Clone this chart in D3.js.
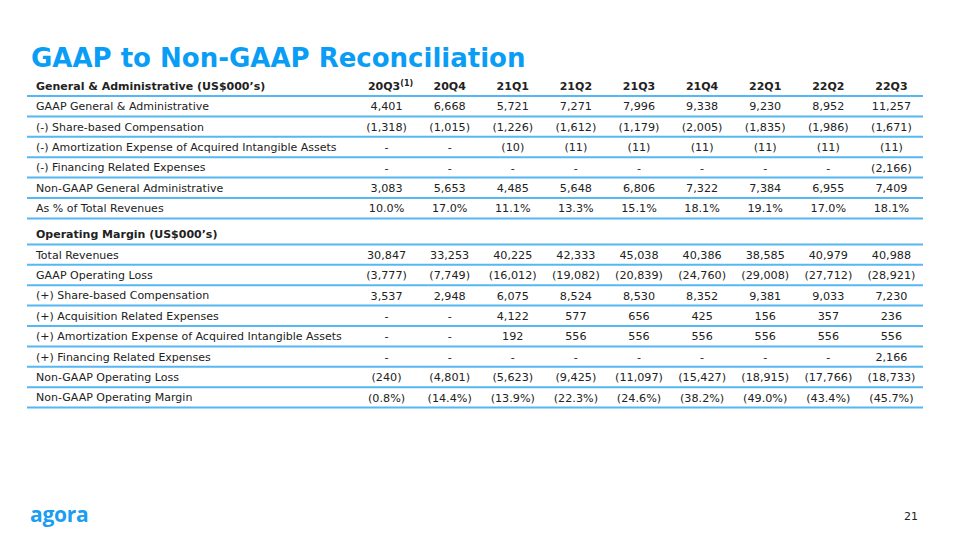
<!DOCTYPE html>
<html>
<head>
<meta charset="utf-8">
<script src="https://cdn.jsdelivr.net/npm/d3@7"></script>
<style>
  html, body { margin: 0; padding: 0; background: #fff; }
  svg { display: block; }
</style>
</head>
<body>
<svg id="chart" width="960" height="540"></svg>
<script>
// ---- Data ----
const quarters = ["20Q3", "20Q4", "21Q1", "21Q2", "21Q3", "21Q4", "22Q1", "22Q2", "22Q3"];

const gaTitle = "General & Administrative (US$000\u2019s)";
const gaLabels = [
  "GAAP General & Administrative",
  "(-) Share-based Compensation",
  "(-) Amortization Expense of Acquired Intangible Assets",
  "(-) Financing Related Expenses",
  "Non-GAAP General Administrative",
  "As % of Total Revenues"
];
const gaGaap      = [4401, 6668, 5721, 7271, 7996, 9338, 9230, 8952, 11257];
const gaSbc       = [-1318, -1015, -1226, -1612, -1179, -2005, -1835, -1986, -1671];
const gaAmort     = [null, null, -10, -11, -11, -11, -11, -11, -11];
const gaFinancing = [null, null, null, null, null, null, null, null, -2166];
const gaNonGaap   = [3083, 5653, 4485, 5648, 6806, 7322, 7384, 6955, 7409];
const gaPct       = [10.0, 17.0, 11.1, 13.3, 15.1, 18.1, 19.1, 17.0, 18.1];

const opTitle = "Operating Margin (US$000\u2019s)";
const opLabels = [
  "Total Revenues",
  "GAAP Operating Loss",
  "(+) Share-based Compensation",
  "(+) Acquisition Related Expenses",
  "(+) Amortization Expense of Acquired Intangible Assets",
  "(+) Financing Related Expenses",
  "Non-GAAP Operating Loss",
  "Non-GAAP Operating Margin"
];
const opRevenue   = [30847, 33253, 40225, 42333, 45038, 40386, 38585, 40979, 40988];
const opGaapLoss  = [-3777, -7749, -16012, -19082, -20839, -24760, -29008, -27712, -28921];
const opSbc       = [3537, 2948, 6075, 8524, 8530, 8352, 9381, 9033, 7230];
const opAcq       = [null, null, 4122, 577, 656, 425, 156, 357, 236];
const opAmort     = [null, null, 192, 556, 556, 556, 556, 556, 556];
const opFinancing = [null, null, null, null, null, null, null, null, 2166];
const opNonGaap   = [-240, -4801, -5623, -9425, -11097, -15427, -18915, -17766, -18733];
const opMargin    = [-0.8, -14.4, -13.9, -22.3, -24.6, -38.2, -49.0, -43.4, -45.7];

// ---- Build table ----
const fmtInt = d3.format(",");
const fmtPct = d3.format(".1f");
function fmt(v, pct) {
  if (v === null) return "-";
  const s = pct ? fmtPct(Math.abs(v)) + "%" : fmtInt(Math.abs(v));
  return v < 0 ? "(" + s + ")" : s;
}

const rows = [];
rows.push({ type: "head", label: gaTitle });
[gaGaap, gaSbc, gaAmort, gaFinancing, gaNonGaap, gaPct].forEach((vals, i) =>
  rows.push({ type: "data", label: gaLabels[i], values: vals, pct: i === 5 }));
rows.push({ type: "head", label: opTitle, gap: 26 });
[opRevenue, opGaapLoss, opSbc, opAcq, opAmort, opFinancing, opNonGaap, opMargin].forEach((vals, i) =>
  rows.push({ type: "data", label: opLabels[i], values: vals, pct: i === 7 }));

let yLine = 96;
rows.forEach((r, i) => {
  if (i > 0) yLine += (r.gap || 20.4);
  r.line = yLine;
  r.text = yLine - 10;
});

const svg = d3.select("#chart");
const font = "'DejaVu Sans', Verdana, sans-serif";
const left = 27, right = 923, labelX = 36;
const textColor = "#222";

const x = d3.scaleBand().domain(quarters).range([355, right]);

// Title
svg.append("text")
  .attr("x", 31).attr("y", 67)
  .attr("font-family", font).attr("font-weight", "bold")
  .attr("font-size", 26)
  .attr("fill", "#0a9df5")
  .text("GAAP to Non-GAAP Reconciliation");

const g = svg.append("g");

g.selectAll("line.rule").data(rows).join("line")
  .attr("class", "rule")
  .attr("x1", left).attr("x2", right)
  .attr("y1", d => d.line).attr("y2", d => d.line)
  .attr("stroke", "#55b7f3").attr("stroke-width", 2);

g.selectAll("text.label").data(rows).join("text")
  .attr("class", "label")
  .attr("x", labelX).attr("y", d => d.text)
  .attr("dy", "0.35em")
  .attr("font-family", font)
  .attr("font-size", 11)
  .attr("font-weight", d => d.type === "head" ? "bold" : "normal")
  .attr("fill", textColor)
  .text(d => d.label);

const head = rows[0];
const ht = g.selectAll("text.colhead").data(quarters).join("text")
  .attr("class", "colhead")
  .attr("x", d => x(d) + x.bandwidth() / 2 + (d === "20Q3" ? 4 : 0))
  .attr("y", head.text).attr("dy", "0.35em")
  .attr("text-anchor", "middle")
  .attr("font-family", font).attr("font-size", 11).attr("font-weight", "bold")
  .attr("fill", textColor)
  .text(d => d);
ht.filter(d => d === "20Q3").append("tspan")
  .attr("font-size", 8).attr("dy", "-0.45em").attr("font-weight", "bold")
  .text("(1)");

rows.filter(r => r.type === "data").forEach(r => {
  g.append("g").selectAll("text").data(r.values).join("text")
    .attr("x", (d, i) => x(quarters[i]) + x.bandwidth() / 2)
    .attr("y", r.text).attr("dy", "0.35em")
    .attr("text-anchor", "middle")
    .attr("font-family", font).attr("font-size", 11.2)
    .attr("fill", textColor)
    .text(d => fmt(d, r.pct));
});

// logo
svg.append("text")
  .attr("x", 30).attr("y", 522)
  .attr("font-family", "'Open Sans', Lato, sans-serif").attr("font-weight", "bold")
  .attr("font-size", 21)
  .attr("fill", "#1a9df2")
  .attr("letter-spacing", -0.3)
  .text("agora");

// page number
svg.append("text")
  .attr("x", 918).attr("y", 520)
  .attr("text-anchor", "end")
  .attr("font-family", font).attr("font-size", 11)
  .attr("fill", textColor)
  .text("21");
</script>
</body>
</html>
